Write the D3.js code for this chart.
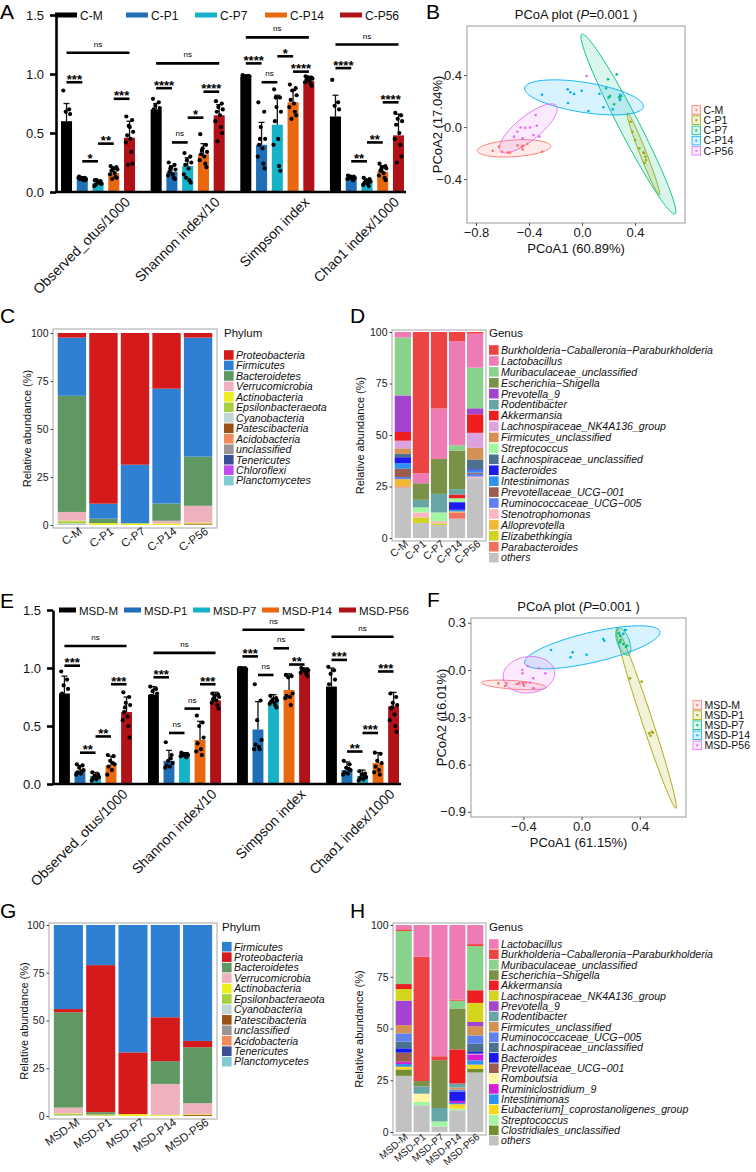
<!DOCTYPE html>
<html>
<head>
<meta charset="utf-8">
<script src="https://cdn.jsdelivr.net/npm/d3@7"></script>
<style>
body { margin: 0; background: #fff; }
svg { display: block; }
</style>
</head>
<body>
<svg id="fig" width="756" height="1172"></svg>
<script>
var FONT = '"Liberation Sans", Arial, Helvetica, sans-serif';

/** alpha diversity (panels A and E) */
var alphaMetrics = ['Observed_otus/1000', 'Shannon index/10', 'Simpson index', 'Chao1 index/1000'];
var cGroups = ['C-M', 'C-P1', 'C-P7', 'C-P14', 'C-P56'];
var msdGroups = ['MSD-M', 'MSD-P1', 'MSD-P7', 'MSD-P14', 'MSD-P56'];
var alphaTicks = [0, 0.5, 1.0, 1.5];

var cMean = [
    [0.60, 0.12, 0.08, 0.16, 0.46],
    [0.70, 0.17, 0.22, 0.32, 0.65],
    [0.98, 0.40, 0.57, 0.76, 0.94],
    [0.64, 0.12, 0.08, 0.17, 0.48]
];
var cErr = [
    [0.75, 0.13, 0.10, 0.20, 0.60],
    [0.75, 0.22, 0.29, 0.41, 0.74],
    [0.99, 0.59, 0.82, 0.86, 0.98],
    [0.82, 0.13, 0.10, 0.22, 0.66]
];
var cDots = [
    [[0.86, 0.70, 0.68, 0.66, 0.45, 0.35], [0.13, 0.12, 0.12, 0.11, 0.11, 0.10, 0.12, 0.11, 0.10, 0.12], [0.10, 0.09, 0.08, 0.07, 0.06, 0.08, 0.05, 0.09, 0.07, 0.10], [0.22, 0.21, 0.20, 0.19, 0.18, 0.16, 0.15, 0.13, 0.12, 0.11, 0.20], [0.64, 0.61, 0.56, 0.51, 0.48, 0.45, 0.42, 0.34, 0.24, 0.23, 0.55]],
    [[0.79, 0.76, 0.73, 0.71, 0.70, 0.68], [0.25, 0.23, 0.21, 0.19, 0.17, 0.15, 0.14, 0.12, 0.11, 0.20], [0.33, 0.30, 0.27, 0.25, 0.23, 0.20, 0.15, 0.10, 0.08, 0.12], [0.49, 0.40, 0.37, 0.34, 0.32, 0.30, 0.27, 0.24, 0.21, 0.35], [0.77, 0.75, 0.72, 0.70, 0.68, 0.65, 0.60, 0.55, 0.50, 0.43]],
    [[0.99, 0.985, 0.98, 0.98, 0.975, 0.98], [0.76, 0.68, 0.55, 0.45, 0.40, 0.37, 0.30, 0.24, 0.20, 0.45], [0.87, 0.80, 0.72, 0.68, 0.60, 0.45, 0.40, 0.22, 0.18, 0.80], [0.91, 0.88, 0.86, 0.82, 0.78, 0.75, 0.72, 0.68, 0.65, 0.62], [0.98, 0.97, 0.97, 0.96, 0.95, 0.94, 0.93, 0.92, 0.90, 0.97]],
    [[0.95, 0.76, 0.73, 0.70, 0.60, 0.40], [0.14, 0.13, 0.13, 0.12, 0.12, 0.11, 0.11, 0.10, 0.12, 0.13], [0.12, 0.11, 0.10, 0.09, 0.08, 0.07, 0.06, 0.05, 0.09, 0.08], [0.24, 0.22, 0.21, 0.20, 0.18, 0.16, 0.14, 0.12, 0.10, 0.19], [0.67, 0.65, 0.62, 0.60, 0.57, 0.50, 0.45, 0.40, 0.30, 0.25]]
];
// [metric, group a, group b, bracket height, label]
var cSig = [
    [0, 0, 1, 0.93, '***'], [0, 1, 2, 0.26, '*'], [0, 2, 3, 0.41, '**'], [0, 3, 4, 0.79, '***'], [0, 0, 4, 1.18, 'ns'],
    [1, 0, 1, 0.88, '****'], [1, 1, 2, 0.42, 'ns'], [1, 2, 3, 0.63, '*'], [1, 3, 4, 0.85, '****'], [1, 0, 4, 1.09, 'ns'],
    [2, 0, 1, 1.09, '****'], [2, 1, 2, 0.93, 'ns'], [2, 2, 3, 1.15, '*'], [2, 3, 4, 1.02, '****'], [2, 0, 4, 1.31, 'ns'],
    [3, 0, 1, 1.05, '****'], [3, 1, 2, 0.26, '**'], [3, 2, 3, 0.42, '**'], [3, 3, 4, 0.76, '****'], [3, 0, 4, 1.25, 'ns']
];

var eMean = [
    [0.78, 0.11, 0.07, 0.16, 0.62],
    [0.77, 0.20, 0.24, 0.38, 0.72],
    [1.00, 0.47, 0.71, 0.81, 0.97],
    [0.84, 0.12, 0.07, 0.18, 0.67]
];
var eErr = [
    [0.93, 0.16, 0.10, 0.24, 0.75],
    [0.84, 0.29, 0.27, 0.54, 0.79],
    [1.00, 0.71, 0.77, 0.95, 0.99],
    [1.00, 0.19, 0.12, 0.27, 0.79]
];
var eDots = [
    [[0.97, 0.90, 0.85, 0.82, 0.78, 0.65], [0.17, 0.16, 0.14, 0.12, 0.10, 0.09, 0.08, 0.11], [0.10, 0.08, 0.07, 0.06, 0.05, 0.04, 0.03, 0.06], [0.25, 0.24, 0.20, 0.17, 0.15, 0.12, 0.08, 0.18], [0.79, 0.75, 0.70, 0.68, 0.62, 0.58, 0.55, 0.50, 0.40, 0.66]],
    [[0.84, 0.82, 0.80, 0.78, 0.76, 0.75], [0.36, 0.25, 0.20, 0.18, 0.16, 0.15, 0.14, 0.22], [0.27, 0.26, 0.26, 0.25, 0.25, 0.24, 0.24, 0.23], [0.59, 0.53, 0.50, 0.40, 0.35, 0.30, 0.28, 0.25], [0.78, 0.77, 0.76, 0.75, 0.73, 0.72, 0.70, 0.68, 0.65, 0.74]],
    [[1.00, 1.00, 1.00, 0.99, 1.00, 0.995], [0.86, 0.72, 0.55, 0.38, 0.34, 0.32, 0.30, 0.30], [0.76, 0.74, 0.73, 0.72, 0.71, 0.70, 0.69, 0.68, 0.66], [0.94, 0.93, 0.92, 0.78, 0.76, 0.75, 0.74, 0.68], [1.00, 0.99, 0.99, 0.98, 0.98, 0.97, 0.96, 0.95, 0.93, 0.99]],
    [[1.01, 0.98, 0.95, 0.90, 0.86, 0.80], [0.20, 0.17, 0.14, 0.12, 0.10, 0.09, 0.08, 0.13], [0.11, 0.09, 0.08, 0.06, 0.05, 0.04, 0.03, 0.07], [0.27, 0.26, 0.20, 0.18, 0.15, 0.12, 0.10, 0.08], [0.78, 0.75, 0.70, 0.68, 0.65, 0.60, 0.55, 0.50, 0.45, 0.66]]
];
var eSig = [
    [0, 0, 1, 1.02, '***'], [0, 1, 2, 0.27, '**'], [0, 2, 3, 0.41, '**'], [0, 3, 4, 0.86, '***'], [0, 0, 4, 1.19, 'ns'],
    [1, 0, 1, 0.92, '***'], [1, 1, 2, 0.44, 'ns'], [1, 2, 3, 0.65, 'ns'], [1, 3, 4, 0.86, '***'], [1, 0, 4, 1.13, 'ns'],
    [2, 0, 1, 1.10, '***'], [2, 1, 2, 0.94, 'ns'], [2, 2, 3, 1.17, 'ns'], [2, 3, 4, 1.03, '**'], [2, 0, 4, 1.33, 'ns'],
    [3, 0, 1, 1.07, '***'], [3, 1, 2, 0.28, '**'], [3, 2, 3, 0.44, '***'], [3, 3, 4, 0.97, '***'], [3, 0, 4, 1.27, 'ns']
];

/** PCoA (panels B and F): points [PCoA1, PCoA2]; ellipses [cx, cy, ux, uy, vx, vy] */
var cPcoaPoints = [
    [[-0.674, -0.182], [-0.626, -0.151], [-0.604, -0.190], [-0.561, -0.197], [-0.543, -0.197], [-0.486, -0.141], [-0.448, -0.172], [-0.443, -0.144], [-0.413, -0.131], [-0.455, -0.151], [-0.302, -0.190]],
    [[0.367, 0.041], [0.380, -0.036], [0.400, -0.100], [0.433, -0.164], [0.463, -0.197], [0.478, -0.228], [0.483, -0.254], [0.473, -0.275], [0.468, -0.200]],
    [[0.196, 0.367], [0.262, 0.405], [0.181, 0.298], [0.211, 0.238], [0.201, 0.228], [0.242, 0.175], [0.287, 0.208], [0.297, 0.238], [0.280, 0.230]],
    [[-0.302, 0.248], [-0.108, 0.290], [-0.088, 0.267], [-0.060, 0.254], [-0.003, 0.279], [-0.106, 0.185], [0.048, 0.123], [0.131, 0.256], [0.161, 0.152], [0.232, 0.136], [0.287, 0.213], [0.287, 0.248]],
    [[-0.513, -0.074], [-0.488, -0.036], [-0.463, -0.003], [-0.430, -0.005], [-0.448, -0.087], [-0.392, -0.003], [-0.367, -0.062], [-0.342, 0.010], [-0.350, 0.092], [-0.322, -0.074], [0.035, 0.392]]
];
var cEllipses = [
    [-0.513, -0.164, 0.277, 0.018, 0.004, -0.064],
    [0.463, -0.208, 0.121, -0.315, 0.023, 0.009],
    [0.350, 0.023, 0.352, -0.692, 0.067, 0.035],
    [0.015, 0.228, 0.448, -0.072, -0.017, -0.114],
    [-0.405, -0.010, 0.211, 0.174, 0.057, -0.072]
];
var msdPcoaPoints = [
    [[-0.572, -0.085], [-0.526, -0.102], [-0.517, -0.085], [-0.444, -0.089], [-0.428, -0.085], [-0.403, -0.078], [-0.384, -0.080], [-0.396, -0.100], [-0.332, -0.116]],
    [[0.333, -0.053], [0.413, -0.074], [0.465, -0.402], [0.482, -0.392], [0.475, -0.417], [0.491, -0.398]],
    [[0.264, 0.216], [0.269, 0.190], [0.287, 0.165], [0.305, 0.148], [0.314, 0.154], [0.255, 0.233], [0.298, 0.254], [0.264, 0.176]],
    [[-0.210, 0.127], [-0.061, 0.112], [-0.075, 0.081], [0.035, 0.097], [0.149, 0.197], [0.156, 0.186], [0.287, 0.229], [0.305, 0.254]],
    [[-0.407, 0.000], [-0.407, -0.021], [-0.370, 0.025], [-0.295, 0.011], [-0.249, -0.021], [-0.332, -0.053], [-0.355, -0.080], [-0.401, -0.089], [-0.327, -0.116]]
];
var msdEllipses = [
    [-0.465, -0.095, 0.223, -0.015, -0.002, -0.027],
    [0.445, -0.307, 0.204, -0.571, 0.034, 0.011],
    [0.287, 0.180, -0.034, 0.085, 0.039, 0.013],
    [0.074, 0.144, 0.465, 0.100, 0.023, -0.093],
    [-0.362, -0.030, 0.177, 0.019, 0.014, -0.114]
];

/** relative abundance (panels C, D, G, H) */
var cPhyla = ['Proteobacteria', 'Firmicutes', 'Bacteroidetes', 'Verrucomicrobia', 'Actinobacteria', 'Epsilonbacteraeota', 'Cyanobacteria', 'Patescibacteria', 'Acidobacteria', 'unclassified', 'Tenericutes', 'Chloroflexi', 'Planctomycetes'];
var cPhylumValues = [
    [2.4, 30.3, 60.5, 4.5, 0.3, 1.1, 0.6, 0.1, 0, 0.2, 0, 0, 0],
    [88.9, 7.8, 2.3, 0, 0.9, 0, 0, 0, 0, 0.1, 0, 0, 0],
    [68.6, 30.5, 0, 0, 0.9, 0, 0, 0, 0, 0, 0, 0, 0],
    [29.0, 59.8, 9.0, 1.4, 0.8, 0, 0, 0, 0, 0, 0, 0, 0],
    [2.4, 62.0, 25.6, 8.7, 0.5, 0, 0, 0.5, 0.1, 0.2, 0, 0, 0]
];
var cGenera = ['Burkholderia\u2212Caballeronia\u2212Paraburkholderia', 'Lactobacillus', 'Muribaculaceae_unclassified', 'Escherichia\u2212Shigella', 'Prevotella_9', 'Rodentibacter', 'Akkermansia', 'Lachnospiraceae_NK4A136_group', 'Firmicutes_unclassified', 'Streptococcus', 'Lachnospiraceae_unclassified', 'Bacteroides', 'Intestinimonas', 'Prevotellaceae_UCG\u2212001', 'Ruminococcaceae_UCG\u2212005', 'Stenotrophomonas', 'Alloprevotella', 'Elizabethkingia', 'Parabacteroides', 'others'];
var cGenusValues = [
    [0, 2.7, 28.0, 0, 17.7, 0, 4.2, 3.7, 2.7, 0, 1.6, 2.9, 2.7, 4.0, 1.0, 0, 3.5, 0, 0.5, 24.5],
    [68.5, 4.8, 0, 8.0, 0, 3.7, 0, 0, 0, 2.4, 0, 0, 0, 0, 0, 2.4, 0, 2.7, 0, 7.3],
    [37.1, 24.5, 0, 16.9, 0, 9.0, 0, 0, 0, 4.2, 0, 0, 0, 0, 0, 1.1, 0, 0.8, 0, 6.3],
    [4.4, 50.6, 2.6, 18.7, 0, 2.6, 1.8, 0, 0, 1.9, 0, 3.7, 0.8, 0, 0, 0, 0.5, 0, 3.0, 9.4],
    [0.8, 16.5, 19.7, 0, 2.9, 0, 9.0, 7.3, 5.6, 0, 4.8, 0.6, 1.0, 0.6, 1.3, 0.8, 0, 0, 0, 29.0]
];
var msdPhyla = ['Firmicutes', 'Proteobacteria', 'Bacteroidetes', 'Verrucomicrobia', 'Actinobacteria', 'Epsilonbacteraeota', 'Cyanobacteria', 'Patescibacteria', 'unclassified', 'Acidobacteria', 'Tenericutes', 'Planctomycetes'];
var msdPhylumValues = [
    [44.0, 1.7, 49.9, 3.0, 0.2, 0.7, 0.3, 0, 0.2, 0, 0, 0],
    [21.0, 77.0, 1.2, 0, 0.5, 0, 0, 0, 0.3, 0, 0, 0],
    [66.7, 32.3, 0, 0, 1.0, 0, 0, 0, 0, 0, 0, 0],
    [48.3, 23.0, 11.9, 16.2, 0.5, 0, 0, 0, 0.1, 0, 0, 0],
    [60.7, 3.3, 29.3, 5.8, 0.4, 0, 0, 0.5, 0, 0, 0, 0]
];
var msdGenera = ['Lactobacillus', 'Burkholderia\u2212Caballeronia\u2212Paraburkholderia', 'Muribaculaceae_unclassified', 'Escherichia\u2212Shigella', 'Akkermansia', 'Lachnospiraceae_NK4A136_group', 'Prevotella_9', 'Rodentibacter', 'Firmicutes_unclassified', 'Ruminococcaceae_UCG\u2212005', 'Lachnospiraceae_unclassified', 'Bacteroides', 'Prevotellaceae_UCG\u2212001', 'Romboutsia', 'Ruminiclostridium_9', 'Intestinimonas', 'Eubacterium]_coprostanoligenes_group', 'Streptococcus', 'Clostridiales_unclassified', 'others'];
var msdGenusValues = [
    [2.1, 0.8, 25.6, 0, 2.4, 5.6, 11.8, 0, 4.0, 4.0, 3.2, 2.1, 4.4, 0, 1.1, 1.3, 1.3, 0, 3.1, 27.1],
    [15.3, 60.0, 0, 2.6, 0, 0, 0, 3.5, 0, 0, 0, 0, 0, 4.0, 0, 0, 0, 1.6, 0, 12.9],
    [63.4, 1.9, 0, 23.1, 0, 0, 0, 6.5, 0, 0, 0, 0, 0, 0, 0, 0, 0, 2.4, 0, 2.7],
    [36.0, 0.6, 3.7, 19.8, 16.5, 0, 0, 1.9, 1.0, 1.1, 0, 4.4, 0, 0, 1.0, 0.6, 2.1, 0.8, 0, 10.5],
    [9.2, 1.0, 21.3, 0, 6.1, 9.2, 2.1, 0, 4.4, 4.0, 4.0, 0.8, 0, 0.3, 2.9, 2.1, 1.9, 0, 1.9, 28.7]
];

/** colours */
var groupColors = ['#000000', '#1f6fb6', '#16b2c7', '#e8670f', '#b01217'];
var pcoaColors = ['#F8766D', '#A3A500', '#00BF7D', '#00B0F6', '#E76BF3'];
var phylumColor = {
    Proteobacteria: '#d51a1c', Firmicutes: '#2f80d2', Bacteroidetes: '#5f9863', Verrucomicrobia: '#eeb2be',
    Actinobacteria: '#eeee1c', Epsilonbacteraeota: '#a6d042', Cyanobacteria: '#bfd6d6', Patescibacteria: '#9b5216',
    Acidobacteria: '#f08a5a', unclassified: '#9a9494', Tenericutes: '#3a4f98', Chloroflexi: '#c24bf1', Planctomycetes: '#7fcad3'
};
var cGenusColors = ['#ee4343', '#ee7bb4', '#88d38b', '#7a9247', '#a244cf', '#66a6a6', '#ee1d1f', '#dda2de', '#d59152', '#a3f7a3', '#4b7090', '#1b1bef', '#2e91ef', '#9b5b4e', '#5b82ee', '#ffb7c2', '#f2b733', '#d3d31f', '#f2705e', '#c2c2c2'];
var msdGenusColors = ['#ee7bb4', '#ee4343', '#88d38b', '#7a9247', '#ee1d1f', '#d4d41e', '#a244cf', '#66a6a6', '#d59152', '#5b82ee', '#4b7090', '#1b1bef', '#9b5b4e', '#fff6a3', '#d41fd2', '#2e91ef', '#fdd61a', '#a3f7a3', '#72902f', '#c2c2c2'];

var svg = d3.select('#fig').attr('font-family', FONT);
var JITTER = [-3.2, 2.6, -0.8, 3.6, -2.4, 0.9, -3.8, 1.8, 3.0, -1.6, 0.2];

/**
 * Grouped bar chart with SD bars, dots and significance brackets.
 */
function drawAlpha(cfg) {
    var g = svg.append('g');
    var y = d3.scaleLinear().domain([0, 1.5]).range([cfg.y0, cfg.y1]);
    var x = d3.scaleBand().domain(alphaMetrics).range([cfg.gx0, cfg.gx1]).paddingInner(cfg.gpad);
    var xs = d3.scaleBand().domain(cfg.groups).range([0, x.bandwidth()]).paddingInner(0.3);
    var rows = [];
    alphaMetrics.forEach(function (m, mi) {
        cfg.groups.forEach(function (s, si) {
            rows.push({ metric: m, group: s, gi: si, mean: cfg.mean[mi][si], err: cfg.err[mi][si], dots: cfg.dots[mi][si] });
        });
    });
    var cx = function (d) { return x(d.metric) + xs(d.group) + xs.bandwidth() / 2; };

    g.selectAll('rect.bar').data(rows).enter().append('rect')
        .attr('class', 'bar')
        .attr('x', function (d) { return x(d.metric) + xs(d.group); })
        .attr('y', function (d) { return y(d.mean); })
        .attr('width', xs.bandwidth())
        .attr('height', function (d) { return y(0) - y(d.mean); })
        .attr('fill', function (d) { return groupColors[d.gi]; });

    var eb = g.selectAll('g.err').data(rows).enter().append('g').attr('class', 'err')
        .attr('stroke', '#111').attr('stroke-width', 1.3);
    eb.append('line')
        .attr('x1', cx).attr('x2', cx)
        .attr('y1', function (d) { return y(d.mean); })
        .attr('y2', function (d) { return y(d.err); });
    eb.append('line')
        .attr('x1', function (d) { return cx(d) - 3; })
        .attr('x2', function (d) { return cx(d) + 3; })
        .attr('y1', function (d) { return y(d.err); })
        .attr('y2', function (d) { return y(d.err); });

    var dotRows = [];
    rows.forEach(function (d) {
        d.dots.forEach(function (v, i) { dotRows.push({ x: cx(d) + JITTER[i % JITTER.length], v: v }); });
    });
    g.selectAll('circle.dot').data(dotRows).enter().append('circle')
        .attr('class', 'dot')
        .attr('cx', function (d) { return d.x; })
        .attr('cy', function (d) { return y(d.v); })
        .attr('r', 2.1)
        .attr('fill', '#000');

    // axes
    var yAxis = g.append('g')
        .attr('transform', 'translate(' + cfg.axisX + ',0)')
        .call(d3.axisLeft(y).tickValues(alphaTicks).tickFormat(d3.format('.1f')).tickSize(6).tickSizeOuter(0).tickPadding(6));
    yAxis.attr('font-family', FONT);
    yAxis.select('.domain').attr('stroke', '#000').attr('stroke-width', 2.6);
    yAxis.selectAll('.tick line').attr('stroke', '#000').attr('stroke-width', 2.6);
    yAxis.selectAll('.tick text').attr('fill', '#111').style('font-size', '13px');
    g.append('line')
        .attr('x1', cfg.axisX).attr('x2', cfg.axisEnd)
        .attr('y1', y(0)).attr('y2', y(0))
        .attr('stroke', '#000').attr('stroke-width', 2.6);

    g.selectAll('text.xl').data(alphaMetrics).enter().append('text')
        .attr('class', 'xl')
        .attr('transform', function (d) { return 'translate(' + (x(d) + x.bandwidth() / 2 + 33) + ',' + (cfg.y0 + 11) + ') rotate(-45)'; })
        .attr('text-anchor', 'end')
        .style('font-size', '14px')
        .attr('fill', '#111')
        .text(function (d) { return d; });

    // significance brackets
    var sig = g.selectAll('g.sig').data(cfg.sig).enter().append('g').attr('class', 'sig');
    var sx = function (s, k) { return x(alphaMetrics[s[0]]) + xs(cfg.groups[s[k]]) + xs.bandwidth() / 2; };
    sig.append('line')
        .attr('x1', function (s) { return sx(s, 1); })
        .attr('x2', function (s) { return sx(s, 2); })
        .attr('y1', function (s) { return y(s[3]); })
        .attr('y2', function (s) { return y(s[3]); })
        .attr('stroke', '#000').attr('stroke-width', 2.6);
    sig.append('text')
        .attr('x', function (s) { return (sx(s, 1) + sx(s, 2)) / 2; })
        .attr('y', function (s) { return s[4] === 'ns' ? y(s[3]) - 6 : y(s[3]) + 1.5; })
        .attr('text-anchor', 'middle')
        .style('font-size', function (s) { return s[4] === 'ns' ? '8px' : '13px'; })
        .style('font-weight', function (s) { return s[4] === 'ns' ? 'normal' : 'bold'; })
        .text(function (s) { return s[4]; });

    // legend
    var lg = g.selectAll('g.lg').data(cfg.groups).enter().append('g').attr('class', 'lg')
        .attr('transform', function (d, i) { return 'translate(' + cfg.legendX[i] + ',' + cfg.legendY + ')'; });
    lg.append('rect').attr('x', 0).attr('y', -2.5).attr('width', cfg.legendW).attr('height', 5)
        .attr('fill', function (d, i) { return groupColors[i]; });
    lg.append('text').attr('x', cfg.legendW + 3).attr('y', 5)
        .style('font-size', cfg.legendSize).attr('fill', '#111')
        .text(function (d) { return d; });
}

/**
 * PCoA scatter with group ellipses.
 */
function drawPcoa(cfg) {
    var g = svg.append('g');
    var x = d3.scaleLinear().domain(cfg.xDomain).range([cfg.left, cfg.right]);
    var y = d3.scaleLinear().domain(cfg.yDomain).range([cfg.bottom, cfg.top]);
    var line = d3.line()
        .x(function (p) { return x(p[0]); })
        .y(function (p) { return y(p[1]); })
        .curve(d3.curveLinearClosed);

    cfg.ellipses.forEach(function (e, i) {
        var pts = d3.range(90).map(function (k) {
            var t = k / 90 * 2 * Math.PI;
            return [e[0] + e[2] * Math.cos(t) + e[4] * Math.sin(t), e[1] + e[3] * Math.cos(t) + e[5] * Math.sin(t)];
        });
        g.append('path').attr('d', line(pts))
            .attr('fill', pcoaColors[i]).attr('fill-opacity', 0.15)
            .attr('stroke', pcoaColors[i]).attr('stroke-width', 0.9);
    });
    cfg.points.forEach(function (pts, i) {
        g.selectAll(null).data(pts).enter().append('circle')
            .attr('cx', function (p) { return x(p[0]); })
            .attr('cy', function (p) { return y(p[1]); })
            .attr('r', 1.3)
            .attr('fill', pcoaColors[i]);
    });

    g.append('rect')
        .attr('x', cfg.left).attr('y', cfg.top)
        .attr('width', cfg.right - cfg.left).attr('height', cfg.bottom - cfg.top)
        .attr('fill', 'none').attr('stroke', '#9a9a9a').attr('stroke-width', 1);

    var xa = g.append('g').attr('transform', 'translate(0,' + cfg.bottom + ')')
        .call(d3.axisBottom(x).tickValues(cfg.xTicks).tickFormat(d3.format('.1f')).tickSize(3).tickSizeOuter(0).tickPadding(2));
    var ya = g.append('g').attr('transform', 'translate(' + cfg.left + ',0)')
        .call(d3.axisLeft(y).tickValues(cfg.yTicks).tickFormat(d3.format('.1f')).tickSize(3).tickSizeOuter(0).tickPadding(2));
    [xa, ya].forEach(function (a) {
        a.attr('font-family', FONT);
        a.select('.domain').remove();
        a.selectAll('.tick line').attr('stroke', '#555');
        a.selectAll('.tick text').attr('fill', '#1a1a1a').style('font-size', '13px');
    });

    var mid = (cfg.left + cfg.right) / 2;
    var title = g.append('text').attr('x', mid).attr('y', cfg.top - 7)
        .attr('text-anchor', 'middle').style('font-size', '13px').attr('fill', '#111');
    title.append('tspan').text('PCoA plot (');
    title.append('tspan').style('font-style', 'italic').text('P');
    title.append('tspan').text('=0.001 )');
    g.append('text').attr('x', mid).attr('y', cfg.bottom + 30)
        .attr('text-anchor', 'middle').style('font-size', '13px').attr('fill', '#111')
        .text(cfg.xTitle);
    g.append('text')
        .attr('transform', 'translate(' + (cfg.left - 25) + ',' + ((cfg.top + cfg.bottom) / 2) + ') rotate(-90)')
        .attr('text-anchor', 'middle').style('font-size', '13px').attr('fill', '#111')
        .text(cfg.yTitle);

    var lg = g.selectAll('g.lg').data(cfg.groups).enter().append('g')
        .attr('transform', function (d, i) { return 'translate(' + cfg.legendX + ',' + (cfg.legendY + i * cfg.legendStep) + ')'; });
    lg.append('rect').attr('x', 0).attr('y', -4.3).attr('width', 8.6).attr('height', 8.6)
        .attr('fill', function (d, i) { return pcoaColors[i]; }).attr('fill-opacity', 0.15)
        .attr('stroke', function (d, i) { return pcoaColors[i]; }).attr('stroke-width', 0.8);
    lg.append('circle').attr('cx', 4.3).attr('cy', 0).attr('r', 1.1)
        .attr('fill', function (d, i) { return pcoaColors[i]; });
    lg.append('text').attr('x', 11.5).attr('y', 3.8)
        .style('font-size', '10.5px').attr('fill', '#111')
        .text(function (d) { return d; });
}

/**
 * Stacked relative abundance bars with a taxon legend.
 */
function drawStack(cfg) {
    var g = svg.append('g');
    var x = d3.scaleBand().domain(cfg.samples).range([cfg.left, cfg.right]).paddingInner(0.1).paddingOuter(0.15);
    var y = d3.scaleLinear().domain([0, 100]).range([cfg.y0, cfg.y100]);
    var keys = d3.range(cfg.taxa.length).reverse();
    var rows = cfg.samples.map(function (s, i) {
        var tot = d3.sum(cfg.values[i]);
        var r = { sample: s };
        cfg.values[i].forEach(function (v, k) { r[k] = v * 100 / tot; });
        return r;
    });
    var layers = d3.stack().keys(keys)(rows);

    g.selectAll('g.layer').data(layers).enter().append('g')
        .attr('class', 'layer')
        .attr('fill', function (d) { return cfg.colors[d.key]; })
        .selectAll('rect').data(function (d) { return d; }).enter().append('rect')
        .attr('x', function (d) { return x(d.data.sample); })
        .attr('width', x.bandwidth())
        .attr('y', function (d) { return y(d[1]); })
        .attr('height', function (d) { return Math.max(0, y(d[0]) - y(d[1])); });

    g.append('rect')
        .attr('x', cfg.left).attr('y', cfg.boxTop)
        .attr('width', cfg.right - cfg.left).attr('height', cfg.boxBottom - cfg.boxTop)
        .attr('fill', 'none').attr('stroke', '#b5b5b5').attr('stroke-width', 1.2);

    var ya = g.append('g').attr('transform', 'translate(' + cfg.left + ',0)')
        .call(d3.axisLeft(y).tickValues([0, 25, 50, 75, 100]).tickSize(2.5).tickSizeOuter(0).tickPadding(2));
    ya.attr('font-family', FONT);
    ya.select('.domain').remove();
    ya.selectAll('.tick line').attr('stroke', '#444');
    ya.selectAll('.tick text').attr('fill', '#1a1a1a').style('font-size', '10.5px');

    g.append('text')
        .attr('transform', 'translate(' + cfg.yTitleX + ',' + ((cfg.boxTop + cfg.boxBottom) / 2) + ') rotate(-90)')
        .attr('text-anchor', 'middle').style('font-size', '11px').attr('fill', '#111')
        .text('Relative abundance (%)');

    g.selectAll('text.xl').data(cfg.samples).enter().append('text')
        .attr('transform', function (d) {
            return 'translate(' + (x(d) + x.bandwidth() / 2 + cfg.labelDx) + ',' + (cfg.boxBottom + cfg.labelDy) + ') rotate(' + (-cfg.labelAngle) + ')';
        })
        .attr('text-anchor', 'end')
        .style('font-size', cfg.labelSize).attr('fill', '#1a1a1a')
        .text(function (d) { return d; });

    g.append('text').attr('x', cfg.legendX).attr('y', cfg.legendTitleY)
        .style('font-size', '11.5px').attr('fill', '#111').text(cfg.legendTitle);
    var lg = g.selectAll('g.lg').data(cfg.taxa).enter().append('g')
        .attr('transform', function (d, i) { return 'translate(' + cfg.legendX + ',' + (cfg.legendY + i * cfg.legendStep) + ')'; });
    lg.append('rect').attr('x', 0).attr('y', -4.8).attr('width', 9.6).attr('height', 9.6)
        .attr('fill', function (d, i) { return cfg.colors[i]; });
    lg.append('text').attr('x', 12).attr('y', 3.8)
        .style('font-size', '10.6px').style('font-style', 'italic')
        .attr('fill', '#111')
        .text(function (d) { return d; });
}

function panelLabel(t, x, y) {
    svg.append('text').attr('x', x).attr('y', y).style('font-size', '21px').attr('fill', '#000').text(t);
}

drawAlpha({
    groups: cGroups, mean: cMean, err: cErr, dots: cDots, sig: cSig,
    y0: 192, y1: 15, gx0: 61, gx1: 404, gpad: 0.174, axisX: 56, axisEnd: 406,
    legendX: [55, 126, 195, 265, 340], legendW: 22, legendY: 15, legendSize: '12px'
});
drawAlpha({
    groups: msdGroups, mean: eMean, err: eErr, dots: eDots, sig: eSig,
    y0: 784, y1: 610, gx0: 59, gx1: 399, gpad: 0.18, axisX: 53, axisEnd: 401,
    legendX: [59, 124, 193, 262, 339], legendW: 17, legendY: 610, legendSize: '11.5px'
});

drawPcoa({
    groups: cGroups, points: cPcoaPoints, ellipses: cEllipses,
    left: 467, right: 685, top: 26, bottom: 223,
    xDomain: [-0.868, 0.777], yDomain: [-0.738, 0.777],
    xTicks: [-0.8, -0.4, 0, 0.4], yTicks: [-0.4, 0, 0.4],
    xTitle: 'PCoA1 (60.89%)', yTitle: 'PCoA2 (17.04%)',
    legendX: 692, legendY: 110, legendStep: 10.2
});
drawPcoa({
    groups: msdGroups, points: msdPcoaPoints, ellipses: msdEllipses,
    left: 471, right: 686, top: 618, bottom: 817,
    xDomain: [-0.760, 0.718], yDomain: [-0.933, 0.330],
    xTicks: [-0.4, 0, 0.4], yTicks: [-0.9, -0.6, -0.3, 0, 0.3],
    xTitle: 'PCoA1 (61.15%)', yTitle: 'PCoA2 (16.01%)',
    legendX: 693, legendY: 705, legendStep: 10.1
});

drawStack({
    samples: cGroups, taxa: cPhyla, values: cPhylumValues,
    colors: cPhyla.map(function (p) { return phylumColor[p]; }),
    left: 53, right: 217, y0: 525, y100: 333, boxTop: 329, boxBottom: 528,
    yTitleX: 31, labelDx: 11, labelDy: 5, labelSize: '11.5px', labelAngle: 35,
    legendTitle: 'Phylum', legendX: 224, legendTitleY: 337, legendY: 355, legendStep: 10.47
});
drawStack({
    samples: cGroups, taxa: cGenera, values: cGenusValues, colors: cGenusColors,
    left: 392, right: 486, y0: 538, y100: 332, boxTop: 330, boxBottom: 541,
    yTitleX: 364, labelDx: 6, labelDy: 4, labelSize: '10.5px', labelAngle: 40,
    legendTitle: 'Genus', legendX: 489, legendTitleY: 337, legendY: 350, legendStep: 10.93
});
drawStack({
    samples: msdGroups, taxa: msdPhyla, values: msdPhylumValues,
    colors: msdPhyla.map(function (p) { return phylumColor[p]; }),
    left: 49, right: 217, y0: 1116, y100: 925, boxTop: 923, boxBottom: 1119,
    yTitleX: 28, labelDx: 12, labelDy: 5, labelSize: '11.5px', labelAngle: 35,
    legendTitle: 'Phylum', legendX: 222, legendTitleY: 931, legendY: 946.7, legendStep: 10.45
});
drawStack({
    samples: msdGroups, taxa: msdGenera, values: msdGenusValues, colors: msdGenusColors,
    left: 393, right: 486, y0: 1132, y100: 925, boxTop: 923, boxBottom: 1135,
    yTitleX: 363, labelDx: 5, labelDy: 3, labelSize: '10px', labelAngle: 40,
    legendTitle: 'Genus', legendX: 489, legendTitleY: 931, legendY: 944, legendStep: 10.35
});

panelLabel('A', 0, 19);
panelLabel('B', 426, 19);
panelLabel('C', 0, 323);
panelLabel('D', 350, 323);
panelLabel('E', 0, 608);
panelLabel('F', 427, 607);
panelLabel('G', 0, 918);
panelLabel('H', 350, 918);
</script>
</body>
</html>
